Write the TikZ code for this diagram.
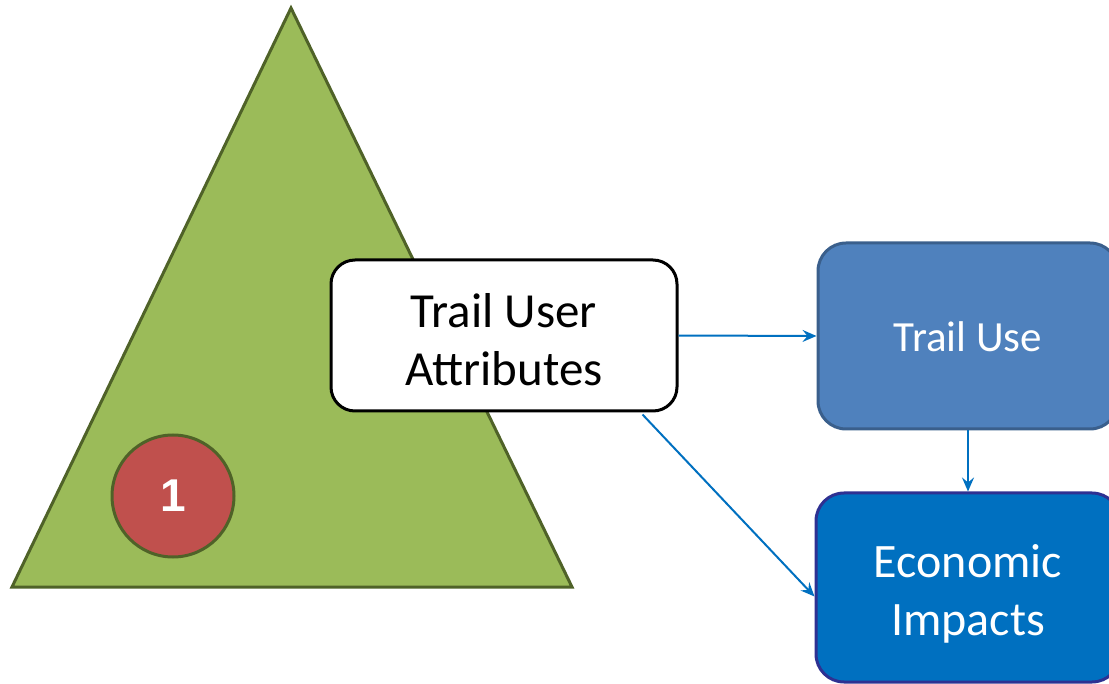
\documentclass[tikz,border=0pt]{standalone}
\usepackage{fontspec}
\setmainfont{Carlito}
\newfontfamily\numfont{Liberation Sans}
\usetikzlibrary{arrows.meta}
\definecolor{leafgreen}{HTML}{9BBB59}
\definecolor{darkgreen}{HTML}{4F6228}
\definecolor{brickred}{HTML}{C0504D}
\definecolor{steelblue}{HTML}{4F81BD}
\definecolor{steeledge}{HTML}{3A5F8C}
\definecolor{deepblue}{HTML}{0070C0}
\definecolor{deepedge}{HTML}{2E3192}
\tikzset{
  flow/.style={draw=deepblue, line width=2pt, -{Stealth[length=14pt, width=12pt, inset=5pt]}},
  roundbox/.style={rounded corners=28pt, line width=3pt, inner sep=0pt},
  boxtext/.style={align=center, inner sep=0pt},
}
\begin{document}
\begin{tikzpicture}[x=1pt, y=-1pt]
  \useasboundingbox (0,0) rectangle (1109,684);
  \clip (0,0) rectangle (1109,684);
  % the green triangle with its numbered marker
  \path[fill=leafgreen, draw=darkgreen, line width=3pt] (291,8) -- (572,587) -- (12,587) -- cycle;
  \node[circle, fill=brickred, draw=darkgreen, line width=3pt, minimum size=122pt, inner sep=0pt,
        text=white, font=\numfont\bfseries\fontsize{46}{50}\selectfont] (mark) at (173,496) {1};
  % boxes
  \node[roundbox, draw=black, fill=white, minimum width=346pt, minimum height=151pt,
        rounded corners=24pt] (ua) at (504,335.5) {};
  \node[boxtext, font=\fontsize{49}{58}\selectfont] (uatext) at ([yshift=-4pt]ua.center) {Trail User\\Attributes};
  \node[roundbox, draw=steeledge, fill=steelblue, minimum width=300pt, minimum height=186pt] (use) at (968,336) {};
  \node[boxtext, text=white, font=\fontsize{43}{50}\selectfont] (usetext) at ([yshift=-1pt]use.center) {Trail Use};
  \node[roundbox, draw=deepedge, fill=deepblue, minimum width=304pt, minimum height=189pt] (econ) at (968,587.5) {};
  \node[boxtext, text=white, font=\fontsize{48}{58}\selectfont] (econtext) at ([yshift=-6pt]econ.center) {Economic\\Impacts};
  % connectors
  \coordinate (uaout) at ([xshift=-36pt, yshift=-2pt]ua.south east);
  \draw[flow] (ua.east) -- (use.west);
  \draw[flow] (uaout) -- ([yshift=-9pt]econ.west);
  \draw[flow] (use.south) -- (econ.north);
\end{tikzpicture}
\end{document}
